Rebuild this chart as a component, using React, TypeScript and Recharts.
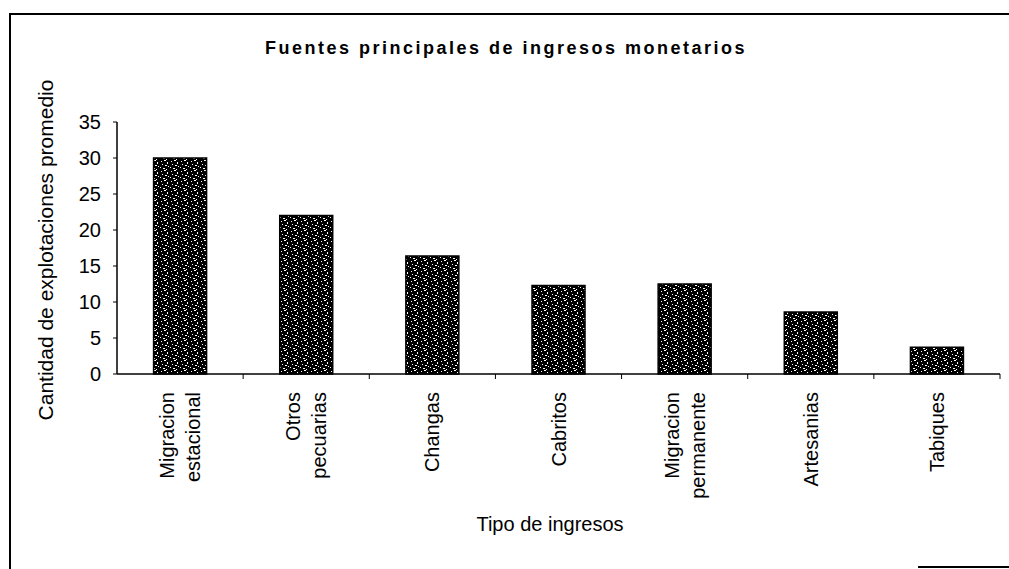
import React from 'react';
import { BarChart, Bar, XAxis, YAxis } from 'recharts';

const categories = [
  'Migracion estacional',
  'Otros pecuarias',
  'Changas',
  'Cabritos',
  'Migracion permanente',
  'Artesanias',
  'Tabiques',
];
const values = [30, 22, 16.4, 12.3, 12.5, 8.6, 3.7];
const yTicks = [0, 5, 10, 15, 20, 25, 30, 35];

const data = categories.map((name, i) => ({ name, value: values[i] }));

const W = 1009;
const H = 569;
const margin = { top: 122, right: 9, bottom: 55, left: 57 };
const yAxisWidth = 60;
const plotLeft = margin.left + yAxisWidth;
const plotWidth = W - margin.right - plotLeft;
const band = plotWidth / categories.length;
const font = 'Arial, "Liberation Sans", sans-serif';

// speckled fill: black tile with a few white dots
const specks = [
  [1, 1, 1, 1], [4, 0, 2, 1], [7, 2, 1, 2], [2, 4, 1, 1], [5, 5, 2, 1],
  [0, 7, 1, 1], [8, 6, 1, 1], [3, 8, 2, 1], [6, 9, 1, 1],
];

const CategoryTick = (props: any) => {
  const { x, y, payload } = props;
  const lines = String(payload.value).split(' ');
  const lh = 26;
  return (
    <g>
      <line x1={x + band / 2} x2={x + band / 2} y1={y - 8} y2={y - 3} stroke="#000" strokeWidth={1} />
      {lines.map((ln, i) => {
        const cx = x + (i - (lines.length - 1) / 2) * lh;
        return (
          <text
            key={i}
            x={cx + 7}
            y={y + 10}
            transform={`rotate(-90, ${cx + 7}, ${y + 10})`}
            textAnchor="end"
            fontFamily={font}
            fontSize={20}
            fill="#000"
          >
            {ln}
          </text>
        );
      })}
    </g>
  );
};

export default function App() {
  return (
    <div style={{ position: 'absolute', left: 0, top: 0, width: W, height: H, background: '#fff' }}>
      <div
        style={{
          position: 'absolute',
          left: 9,
          top: 13,
          width: W - 9,
          height: H - 13,
          borderTop: '2px solid #000',
          borderLeft: '2px solid #000',
          boxSizing: 'border-box',
        }}
      />
      <div style={{ position: 'absolute', left: 918, top: 566, width: 91, height: 0, borderTop: '2px solid #000' }} />
      <div style={{ position: 'absolute', left: 0, top: 0 }}>
        <BarChart width={W} height={H} data={data} margin={margin} barCategoryGap="29%">
          <defs>
            <pattern id="speckle" width={10} height={10} patternUnits="userSpaceOnUse">
              <rect width={10} height={10} fill="#000" />
              {specks.map(([sx, sy, sw, sh], i) => (
                <rect key={i} x={sx} y={sy} width={sw} height={sh} fill="#fff" />
              ))}
            </pattern>
          </defs>
          <text
            x={506}
            y={54}
            textAnchor="middle"
            fontFamily={font}
            fontWeight="bold"
            fontSize={18}
            letterSpacing={2.5}
            fill="#000"
          >
            Fuentes principales de ingresos monetarios
          </text>
          <text
            x={53}
            y={250}
            transform="rotate(-90, 53, 250)"
            textAnchor="middle"
            fontFamily={font}
            fontSize={21}
            fill="#000"
          >
            Cantidad de explotaciones promedio
          </text>
          <text x={550} y={531} textAnchor="middle" fontFamily={font} fontSize={20} fill="#000">
            Tipo de ingresos
          </text>
          <XAxis
            dataKey="name"
            interval={0}
            height={140}
            tickLine={false}
            axisLine={{ stroke: '#000', strokeWidth: 1.5 }}
            tick={<CategoryTick />}
          />
          <YAxis
            width={yAxisWidth}
            domain={[0, 35]}
            ticks={yTicks}
            interval={0}
            tickSize={4}
            tickMargin={12}
            axisLine={{ stroke: '#000', strokeWidth: 1.5 }}
            tickLine={{ stroke: '#000' }}
            tick={{ fill: '#000', fontSize: 20, fontFamily: font }}
          />
          <Bar dataKey="value" fill="url(#speckle)" stroke="#000" strokeWidth={1.5} isAnimationActive={false} />
        </BarChart>
      </div>
    </div>
  );
}
